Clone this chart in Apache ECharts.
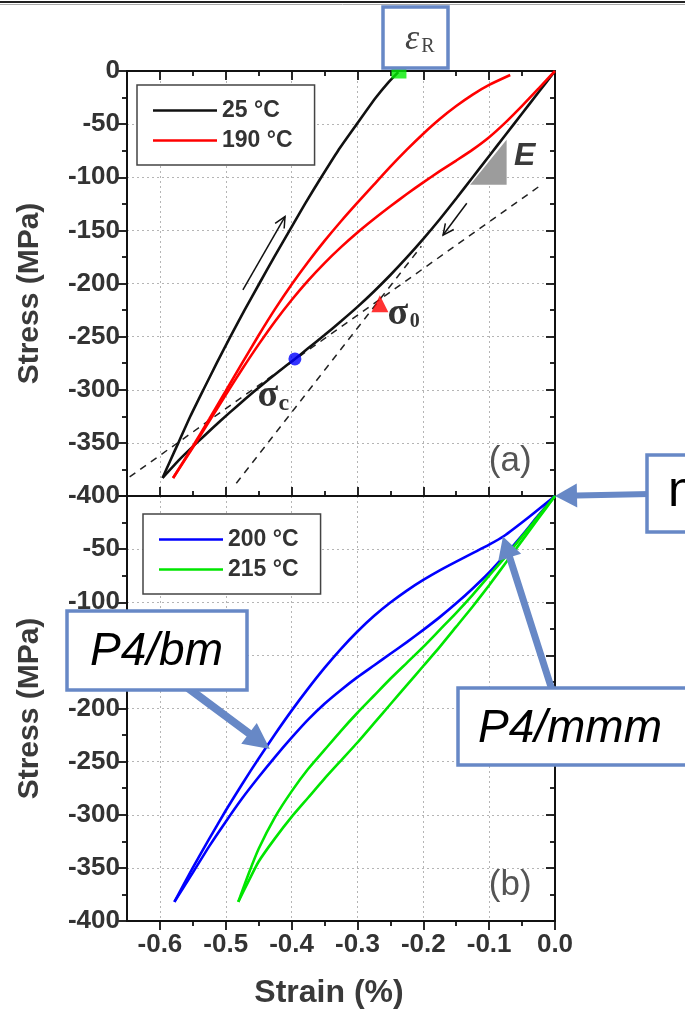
<!DOCTYPE html>
<html>
<head>
<meta charset="utf-8">
<script src="https://cdn.jsdelivr.net/npm/echarts@6/dist/echarts.min.js"></script>
<style>
  html, body { margin: 0; padding: 0; background: #fff; }
  #chart { width: 685px; height: 1010px; }
</style>
</head>
<body>
<div id="chart"></div>
<script>
// ---------------- data (strain in %, stress in MPa) ----------------
const strainTicks = [-0.6, -0.5, -0.4, -0.3, -0.2, -0.1, 0];
const strainMinorTicks = [-0.55, -0.45, -0.35, -0.25, -0.15, -0.05];

// 25 °C loop: compression branch, then release back to the remanent strain
const loading25 = [[0,0],[-0.025,-20],[-0.05,-40],[-0.075,-60],[-0.10,-80],[-0.125,-100],[-0.15,-120],
  [-0.175,-139.5],[-0.20,-158],[-0.225,-175.5],[-0.25,-192],[-0.275,-207.5],[-0.30,-222],[-0.325,-235.5],
  [-0.35,-248.5],[-0.375,-261],[-0.395,-271],[-0.42,-283],[-0.445,-295.5],[-0.47,-308.5],
  [-0.495,-322],[-0.52,-336],[-0.545,-350.5],[-0.57,-365.5],[-0.596,-383]];
const unloading25 = [[-0.596,-383],[-0.5845,-367],[-0.572,-350],[-0.5538,-325],[-0.534,-300],
  [-0.5138,-275],[-0.493,-250],[-0.4715,-225],[-0.449,-200],[-0.4263,-175],[-0.403,-150],
  [-0.3797,-125],[-0.355,-100],[-0.3295,-75],[-0.301,-50],[-0.272,-25],[-0.252,-10],[-0.238,-1]];

// 190 °C loop
const loading190 = [[0,0],[-0.025,-16.5],[-0.05,-32.8],[-0.075,-48.3],[-0.10,-62.3],[-0.125,-74],
  [-0.15,-84.3],[-0.175,-94.3],[-0.20,-104.8],[-0.225,-115.8],[-0.25,-127.3],[-0.275,-139.3],
  [-0.30,-152],[-0.325,-165.8],[-0.35,-180.8],[-0.375,-197.3],[-0.40,-215.5],[-0.425,-235.5],
  [-0.45,-257.3],[-0.475,-280.5],[-0.50,-304.8],[-0.525,-329.5],[-0.55,-354.5],[-0.58,-383]];
const unloading190 = [[-0.58,-383],[-0.55,-353.2],[-0.525,-327.4],[-0.50,-301.2],[-0.475,-274.7],
  [-0.45,-248.7],[-0.425,-223.9],[-0.40,-200.9],[-0.375,-179.7],[-0.35,-159.9],[-0.325,-141.4],
  [-0.30,-123.9],[-0.275,-106.9],[-0.25,-90],[-0.225,-74],[-0.20,-59],[-0.175,-45.2],[-0.15,-33],
  [-0.125,-22.2],[-0.10,-13.1],[-0.068,-3.8]];

// 200 °C loop
const branchA200 = [[0,0],[-0.04,-20],[-0.078,-37.9],[-0.10,-45.8],[-0.125,-53.8],[-0.15,-61.8],
  [-0.175,-70],[-0.20,-79],[-0.225,-89],[-0.25,-100.3],[-0.275,-113],[-0.30,-127.5],[-0.325,-143.8],
  [-0.35,-161.8],[-0.375,-181.3],[-0.40,-202],[-0.425,-224],[-0.45,-247],[-0.475,-271],[-0.50,-296],
  [-0.525,-322.5],[-0.55,-349.8],[-0.578,-382]];
const branchB200 = [[-0.578,-382],[-0.55,-354.5],[-0.525,-329.5],[-0.50,-306.5],[-0.475,-284.5],
  [-0.45,-264.5],[-0.425,-245.5],[-0.40,-227.5],[-0.375,-210.5],[-0.35,-195.5],[-0.325,-182.5],
  [-0.30,-170.5],[-0.275,-159.5],[-0.25,-148.5],[-0.225,-137.5],[-0.20,-126],[-0.175,-114],
  [-0.15,-101],[-0.125,-87],[-0.10,-72],[-0.075,-55],[-0.05,-37],[-0.025,-18],[0,0]];

// 215 °C loop
const branchA215 = [[0,0],[-0.025,-19],[-0.05,-38],[-0.075,-57],[-0.10,-75],[-0.125,-93],[-0.15,-110],
  [-0.175,-126],[-0.20,-142],[-0.225,-157],[-0.25,-172],[-0.275,-188],[-0.30,-204],[-0.325,-221],
  [-0.35,-239],[-0.375,-257],[-0.40,-278],[-0.425,-302],[-0.45,-332],[-0.465,-355],[-0.481,-382]];
const branchB215 = [[-0.481,-382],[-0.465,-362],[-0.45,-344],[-0.425,-322],[-0.40,-302],[-0.375,-284],
  [-0.35,-266],[-0.325,-249],[-0.30,-232],[-0.275,-214],[-0.25,-196],[-0.225,-178],[-0.20,-160],
  [-0.175,-142],[-0.15,-123],[-0.125,-104],[-0.10,-84],[-0.075,-63],[-0.05,-42],[-0.025,-21],[0,0]];

// construction lines and characteristic points of the 25 °C loop
const tangentLow = [[-0.646,-382],[-0.025,-109]];
const tangentHigh = [[-0.484,-388],[-0.203,-165]];
const remanentStrain = [[-0.237, 0]];
const onsetStress = [[-0.266, -219]];
const criticalStress = [[-0.395, -271]];
const modulusTriangle = [[-0.0735,-64.6],[-0.0735,-107],[-0.129,-107]];
const pathArrows = [[-0.474,-206,-0.410,-137],[-0.134,-124.5,-0.170,-154.4]];

// callout anchors (panel b)
const anchorBm = [-0.433, -238];
const anchorMmm = [-0.079, -38];
const anchorOrigin = [0, 0];

// ---------------- styling helpers ----------------
const FONT = '"Liberation Sans", Arial, sans-serif';
const SERIF = '"Liberation Serif", "DejaVu Serif", serif';
const INK = '#111';
const LABEL = '#333';
const CALLOUT = '#6788c6';
const axisLine = { show: true, onZero: false, lineStyle: { color: INK, width: 2 } };
const tickLine = { color: INK, width: 1.8 };
const gridLine = { show: true, lineStyle: { type: [2, 3], color: '#b5b5b5', width: 1 } };

function strainAxis(grid, pos, values, len, inside, extra) {
  return Object.assign({
    gridIndex: grid, type: 'value', position: pos, min: -0.65, max: 0,
    axisLine: { show: false, onZero: false },
    axisTick: { show: values !== null, inside: inside, length: len, customValues: values || undefined, lineStyle: tickLine },
    axisLabel: { show: false },
    splitLine: { show: false }
  }, extra || {});
}

function stressAxis(grid, pos, extra) {
  const inside = pos === 'right';
  return Object.assign({
    gridIndex: grid, type: 'value', position: pos, min: -400, max: 0, interval: 50,
    axisLine: axisLine,
    axisTick: { show: true, inside: inside, length: 9, lineStyle: tickLine },
    minorTick: { show: true, splitNumber: 2, length: 5, lineStyle: tickLine },
    axisLabel: { show: false },
    splitLine: { show: false }
  }, extra || {});
}

const yLabel = (hideTop) => ({
  show: true, fontSize: 26, fontWeight: 'bold', color: LABEL, fontFamily: FONT, margin: 7,
  formatter: v => (hideTop && v === 0) ? '' : String(v)
});
const yName = (pad) => ({
  name: 'Stress (MPa)', nameLocation: 'middle', nameGap: 82,
  nameTextStyle: { fontSize: 30, fontWeight: 'bold', color: '#3a3a3a', fontFamily: FONT, padding: pad }
});

const loopLine = (name, color, data, xi, yi) => ({
  name, type: 'line', data, xAxisIndex: xi, yAxisIndex: yi,
  symbol: 'none', smooth: 0.2, color, lineStyle: { color, width: 2.6 }, z: 3
});
const dashed = (data) => ({
  type: 'line', data, xAxisIndex: 0, yAxisIndex: 0, symbol: 'none', silent: true,
  lineStyle: { color: '#222', width: 1.5, type: [7, 6] }, z: 2
});
const marker = (data, symbol, size, color) => ({
  type: 'scatter', data, xAxisIndex: 0, yAxisIndex: 0, symbol, symbolSize: size,
  itemStyle: { color }, z: 5, silent: true
});

const legendBox = (names, left, top) => ({
  data: names, orient: 'vertical', left, top, icon: 'rect',
  padding: [14, 22, 13, 16], itemGap: 7, itemWidth: 64, itemHeight: 2.6,
  backgroundColor: '#fff', borderColor: '#444', borderWidth: 1.5, borderRadius: 0,
  selectedMode: false,
  textStyle: { fontSize: 23, fontWeight: 'bold', color: LABEL, fontFamily: FONT }
});

const option = {
  backgroundColor: '#fff',
  animation: false,
  grid: [
    { left: 127, top: 71, width: 428, height: 425 },
    { left: 127, top: 496, width: 428, height: 426 }
  ],
  xAxis: [
    strainAxis(0, 'bottom', strainTicks, 9, true, { axisLine: axisLine, splitLine: gridLine }),
    strainAxis(0, 'bottom', strainMinorTicks, 5, true),
    strainAxis(0, 'top', strainTicks, 9, true, { axisLine: axisLine }),
    strainAxis(0, 'top', strainMinorTicks, 5, true),
    strainAxis(1, 'bottom', strainTicks, 9, false, {
      axisLine: axisLine, splitLine: gridLine,
      axisLabel: { show: true, customValues: strainTicks, fontSize: 26, fontWeight: 'bold', color: LABEL,
                   fontFamily: FONT, margin: 11, formatter: v => v.toFixed(1) },
      name: 'Strain (%)', nameLocation: 'middle', nameGap: 56,
      nameTextStyle: { fontSize: 32, fontWeight: 'bold', color: '#3a3a3a', fontFamily: FONT, padding: [0, 24, 0, 0] }
    }),
    strainAxis(1, 'bottom', strainMinorTicks, 5, false),
    strainAxis(1, 'top', null, 0, false, { axisLine: axisLine })
  ],
  yAxis: [
    stressAxis(0, 'left', Object.assign({ axisLabel: yLabel(false), splitLine: gridLine }, yName([0, 20, 0, 0]))),
    stressAxis(0, 'right'),
    stressAxis(1, 'left', Object.assign({ axisLabel: yLabel(true), splitLine: gridLine }, yName([0, 0, 0, 0]))),
    stressAxis(1, 'right')
  ],
  legend: [
    legendBox(['25 °C', '190 °C'], 137, 85),
    legendBox(['200 °C', '215 °C'], 143, 514)
  ],
  series: [
    dashed(tangentLow),
    dashed(tangentHigh),
    loopLine('25 °C', INK, loading25, 0, 0),
    loopLine('25 °C', INK, unloading25, 0, 0),
    loopLine('190 °C', '#ff0000', loading190, 0, 0),
    loopLine('190 °C', '#ff0000', unloading190, 0, 0),
    loopLine('200 °C', '#0000ff', branchA200, 4, 2),
    loopLine('200 °C', '#0000ff', branchB200, 4, 2),
    loopLine('215 °C', '#00e600', branchA215, 4, 2),
    loopLine('215 °C', '#00e600', branchB215, 4, 2),
    {
      type: 'custom', xAxisIndex: 0, yAxisIndex: 0, silent: true, z: 1,
      data: [modulusTriangle.flat()],
      renderItem: (params, api) => ({
        type: 'polygon',
        shape: { points: modulusTriangle.map(p => api.coord(p)) },
        style: { fill: '#9c9c9c' }
      })
    },
    {
      type: 'custom', xAxisIndex: 0, yAxisIndex: 0, silent: true, z: 4,
      dimensions: ['x1', 'y1', 'x2', 'y2'], encode: { x: [0, 2], y: [1, 3] },
      data: pathArrows,
      renderItem: (params, api) => {
        const s = api.coord([api.value(0), api.value(1)]);
        const t = api.coord([api.value(2), api.value(3)]);
        const ang = Math.atan2(t[1] - s[1], t[0] - s[0]);
        const L = 12, a = Math.PI / 7;
        const p1 = [t[0] - L * Math.cos(ang - a), t[1] - L * Math.sin(ang - a)];
        const p2 = [t[0] - L * Math.cos(ang + a), t[1] - L * Math.sin(ang + a)];
        return {
          type: 'group', children: [
            { type: 'line', shape: { x1: s[0], y1: s[1], x2: t[0], y2: t[1] }, style: { stroke: INK, lineWidth: 1.5 } },
            { type: 'polyline', shape: { points: [p1, t, p2] }, style: { stroke: INK, lineWidth: 1.5, fill: null } }
          ]
        };
      }
    },
    marker(remanentStrain, 'rect', 15, '#00ee00'),
    marker(onsetStress, 'triangle', 17, '#ff0000'),
    marker(criticalStress, 'circle', 13, '#0000ff')
  ]
};

const chart = echarts.init(document.getElementById('chart'), null, { renderer: 'canvas' });
chart.setOption(option);

// ---------------- annotations ----------------
const px = (grid, p) => chart.convertToPixel({ xAxisIndex: grid === 0 ? 0 : 4, yAxisIndex: grid === 0 ? 0 : 2 }, p);

function blockArrow(s, t, w, hl, hw) {
  const dx = t[0] - s[0], dy = t[1] - s[1], len = Math.hypot(dx, dy);
  const ux = dx / len, uy = dy / len, nx = -uy, ny = ux;
  const b = [t[0] - ux * hl, t[1] - uy * hl];
  return [
    [s[0] + nx * w / 2, s[1] + ny * w / 2], [b[0] + nx * w / 2, b[1] + ny * w / 2],
    [b[0] + nx * hw / 2, b[1] + ny * hw / 2], t,
    [b[0] - nx * hw / 2, b[1] - ny * hw / 2], [b[0] - nx * w / 2, b[1] - ny * w / 2],
    [s[0] - nx * w / 2, s[1] - ny * w / 2]
  ];
}
const txt = (text, x, y, font, fill, align, vAlign) => ({
  type: 'text', x, y, z: 120,
  style: { text, font, fill, align: align || 'center', verticalAlign: vAlign || 'middle' }
});
const box = (x, y, w, h) => ({
  type: 'rect', z: 110, shape: { x, y, width: w, height: h },
  style: { fill: '#fff', stroke: CALLOUT, lineWidth: 3.5 }
});
const arrow = (s, t, w, hl, hw) => ({
  type: 'polygon', z: 105, shape: { points: blockArrow(s, t, w, hl, hw) },
  style: { fill: CALLOUT }
});

const pOnset = px(0, onsetStress[0]);
const pCrit = px(0, criticalStress[0]);
const pMod = px(0, modulusTriangle[0]);
const pA = px(0, [-0.068, -367]);
const pB = px(1, [-0.068, -366]);
const tipBm = px(1, anchorBm);
const tipMmm = px(1, anchorMmm);
const tipOrigin = px(1, anchorOrigin);

const graphics = [
  // frame rule along the top edge
  { type: 'line', z: 100, shape: { x1: 0, y1: 2, x2: 685, y2: 2 }, style: { stroke: '#222', lineWidth: 2 } },
  { type: 'line', z: 100, shape: { x1: 0, y1: 4.5, x2: 685, y2: 4.5 }, style: { stroke: '#aaa', lineWidth: 1 } },

  // symbols inside panel (a)
  txt('σ', pOnset[0] + 18, pOnset[1] + 10, 'bold 38px ' + SERIF, '#333'),
  txt('0', pOnset[0] + 35, pOnset[1] + 18, 'bold 20px ' + SERIF, '#333'),
  txt('σ', pCrit[0] - 27, pCrit[1] + 37, 'bold 38px ' + SERIF, '#333'),
  txt('c', pCrit[0] - 11, pCrit[1] + 45, 'bold 24px ' + SERIF, '#333'),
  txt('E', pMod[0] + 18, pMod[1] + 17, 'italic bold 32px ' + FONT, '#3a3a3a'),
  txt('(a)', pA[0], pA[1], '35px ' + FONT, '#555'),
  txt('(b)', pB[0], pB[1], '35px ' + FONT, '#555'),

  // remanent strain callout
  box(383, 7, 65, 61),
  txt('ε', 412, 40, 'italic 36px ' + SERIF, '#444'),
  txt('R', 428, 47, '20px ' + SERIF, '#444'),

  // phase callouts with block arrows
  arrow([650, tipOrigin[1] - 2], tipOrigin, 6, 22, 24),
  box(647, 455, 60, 77),
  txt('n', 668, 492, '50px ' + FONT, '#000', 'left'),

  arrow([552, 690], tipMmm, 7, 22, 24),
  box(458, 688, 250, 77),
  txt('P4/mmm', 478, 729, 'italic 46px ' + FONT, '#000', 'left'),

  arrow([188, 688], tipBm, 8, 26, 26),
  box(67, 611, 180, 79),
  txt('P4/bm', 90, 652, 'italic 46px ' + FONT, '#000', 'left')
];
chart.setOption({ graphic: graphics });
</script>
</body>
</html>
